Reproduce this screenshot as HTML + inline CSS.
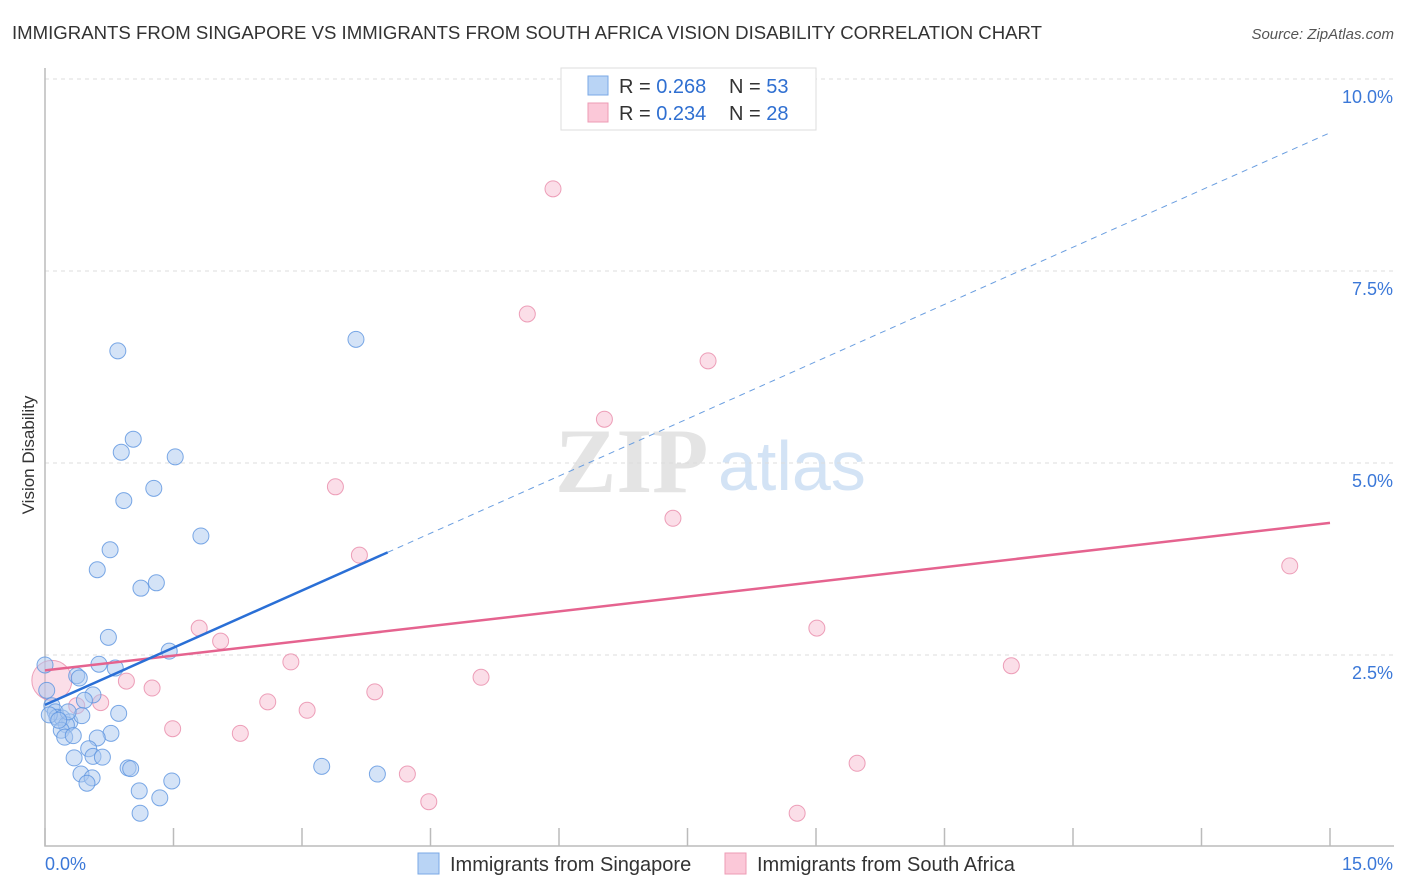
<!DOCTYPE html>
<html><head><meta charset="utf-8"><style>
body{margin:0;background:#fff;font-family:"Liberation Sans",sans-serif}
#c{position:absolute;left:0;top:0}
</style></head><body>
<svg id="c" width="1406" height="892" xmlns="http://www.w3.org/2000/svg">
<text x="12" y="39" font-size="18.6" fill="#333">IMMIGRANTS FROM SINGAPORE VS IMMIGRANTS FROM SOUTH AFRICA VISION DISABILITY CORRELATION CHART</text>
<text x="1394" y="39" font-size="15" fill="#555" font-style="italic" text-anchor="end">Source: ZipAtlas.com</text>
<text transform="translate(34,455) rotate(-90)" font-size="17" fill="#333" text-anchor="middle">Vision Disability</text>
<g><text x="555" y="492" font-size="92" fill="#e4e4e4" font-family="Liberation Serif,serif" font-weight="bold">ZIP</text><text x="718" y="490" font-size="70" fill="#d3e3f5">atlas</text></g>
<g id="grid"></g><g id="axes"></g><g id="pts"></g><g id="trend"></g>
<g>
<rect x="561" y="68" width="255" height="62" fill="#fff" stroke="#ddd"/>
<rect x="588" y="76" width="20" height="19" fill="#b9d4f5" stroke="#7aa8e6"/>
<rect x="588" y="103" width="20" height="19" fill="#fbc8d8" stroke="#ee9bb5"/>
<text x="619" y="93" font-size="20" fill="#333">R = <tspan fill="#2f6fd1">0.268</tspan></text>
<text x="729" y="93" font-size="20" fill="#333">N = <tspan fill="#2f6fd1">53</tspan></text>
<text x="619" y="120" font-size="20" fill="#333">R = <tspan fill="#2f6fd1">0.234</tspan></text>
<text x="729" y="120" font-size="20" fill="#333">N = <tspan fill="#2f6fd1">28</tspan></text>
</g>
<g>
<rect x="418" y="853" width="21" height="21" fill="#b9d4f5" stroke="#7aa8e6"/>
<text x="450" y="871" font-size="20" fill="#333">Immigrants from Singapore</text>
<rect x="725" y="853" width="21" height="21" fill="#fbc8d8" stroke="#ee9bb5"/>
<text x="757" y="871" font-size="20" fill="#333">Immigrants from South Africa</text>
</g>
</svg>
<script>
const blueX=[0.85,3.63,1.03,0.89,1.52,1.27,0.92,1.82,0.76,0.61,1.30,1.12,0.74,1.45,0.63,0.82,0,0.37,0.40,0.02,0.56,0.46,0.08,0.12,0.14,0.20,0.29,0.43,0.86,0.25,0.19,0.23,0.33,0.77,0.61,0.51,0.56,0.67,0.34,0.97,3.23,0.42,3.88,0.55,0.49,1.48,1.10,1.34,1.11,0.27,1.0,0.05,0.16];
const blueY=[6.46,6.61,5.31,5.14,5.08,4.67,4.51,4.05,3.87,3.61,3.44,3.37,2.73,2.55,2.38,2.33,2.37,2.23,2.20,2.04,1.98,1.91,1.84,1.76,1.69,1.68,1.63,1.71,1.74,1.59,1.52,1.43,1.45,1.48,1.42,1.28,1.18,1.17,1.16,1.03,1.05,0.95,0.95,0.90,0.83,0.86,0.73,0.64,0.44,1.76,1.02,1.72,1.65];
const pinkX=[5.93,5.63,7.74,6.53,3.39,7.33,3.67,14.53,1.80,9.01,2.05,2.87,11.28,0.95,5.09,1.25,3.85,2.60,0.65,0.37,3.06,1.49,2.28,9.48,4.23,4.48,8.78,0.08];
const pinkY=[8.57,6.94,6.33,5.57,4.69,4.28,3.80,3.66,2.85,2.85,2.68,2.41,2.36,2.16,2.21,2.07,2.02,1.89,1.88,1.84,1.78,1.54,1.48,1.09,0.95,0.59,0.44,2.17];
const yTicks=[2.5,5.0,7.5,10.0];
const xTickVals=[0,1.5,3,4.5,6,7.5,9,10.5,12,13.5,15];
const blueTrend=[1.85,9.30], pinkTrend=[2.30,4.22], blueSolidEnd=4.0;
const X=v=>45+v/15*1285, Y=v=>847-v/2.5*192;
const NS="http://www.w3.org/2000/svg";
function mk(p,t,a){const e=document.createElementNS(NS,t);for(const k in a)e.setAttribute(k,a[k]);p.appendChild(e);return e;}
const grid=document.getElementById('grid'),axes=document.getElementById('axes'),pts=document.getElementById('pts'),tr=document.getElementById('trend');
yTicks.forEach(v=>{const l=mk(grid,'line',{x1:45,x2:1394,y1:Y(v),y2:Y(v),stroke:'#ddd','stroke-dasharray':'4,4'});


const t=mk(grid,'text',{x:1393,y:Y(v)+24,'font-size':18,fill:'#3b78d8','text-anchor':'end'});t.textContent=v.toFixed(1)+'%';

});
const ax=mk(axes,'path',{d:'M45 68V846H1394',fill:'none',stroke:'#bbb','stroke-width':1.5});


xTickVals.forEach(v=>{const l=mk(axes,'line',{x1:X(v),x2:X(v),y1:828,y2:846,stroke:'#bbb','stroke-width':1.5});

});
const x0=mk(axes,'text',{x:45,y:870,'font-size':18,fill:'#3b78d8'});x0.textContent='0.0%';


const x1=mk(axes,'text',{x:1393,y:870,'font-size':18,fill:'#3b78d8','text-anchor':'end'});x1.textContent='15.0%';


pinkX.forEach((v,i)=>{const c=mk(pts,'circle',{cx:X(v),cy:Y(pinkY[i]),r:i==27?20:8,fill:'#f7b6cb','fill-opacity':0.45,stroke:'#e88aa9','stroke-opacity':0.8});

});
blueX.forEach((v,i)=>{const c=mk(pts,'circle',{cx:X(v),cy:Y(blueY[i]),r:8,fill:'#a9c8f0','fill-opacity':0.5,stroke:'#5b94e0','stroke-opacity':0.8});

});
const bf=v=>blueTrend[0]+(blueTrend[1]-blueTrend[0])*v/15;
const pf=v=>pinkTrend[0]+(pinkTrend[1]-pinkTrend[0])*v/15;
const pl=mk(tr,'line',{x1:X(0),y1:Y(pf(0)),x2:X(15),y2:Y(pf(15)),stroke:'#e5638f','stroke-width':2.5});


const bs=mk(tr,'line',{x1:X(0),y1:Y(bf(0)),x2:X(blueSolidEnd),y2:Y(bf(blueSolidEnd)),stroke:'#2a6fd6','stroke-width':2.5});


const bd=mk(tr,'line',{x1:X(blueSolidEnd),y1:Y(bf(blueSolidEnd)),x2:X(15),y2:Y(bf(15)),stroke:'#6a9ee0','stroke-width':1,'stroke-dasharray':'6,5'});


</script>
</body></html>
